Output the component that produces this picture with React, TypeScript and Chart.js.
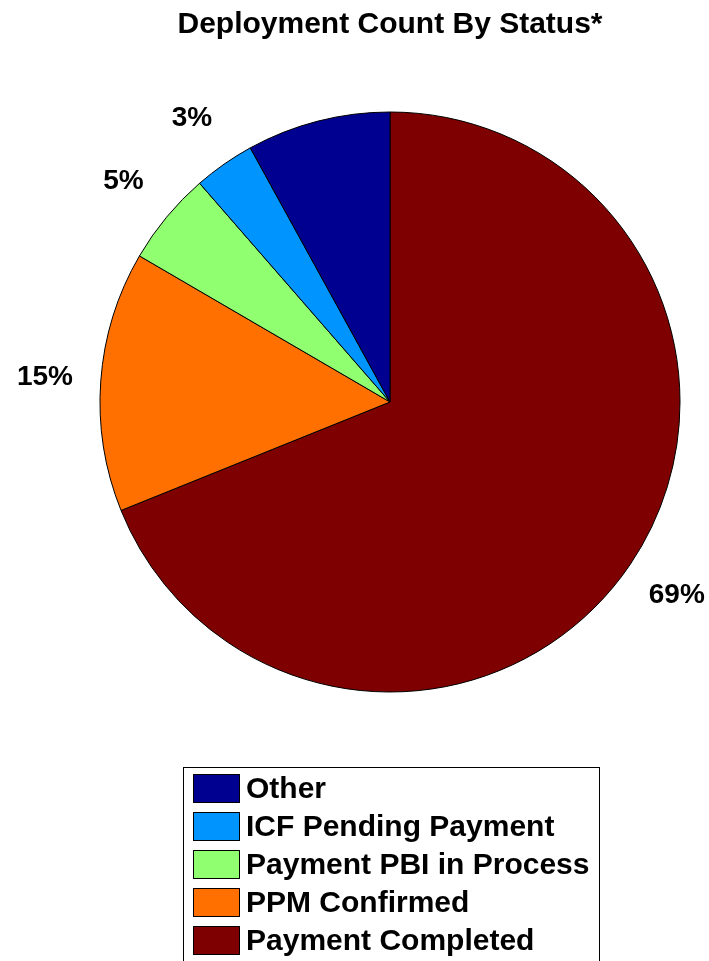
import React, { useEffect, useRef } from "react";
import { Chart, registerables } from "chart.js";

Chart.register(...registerables);

const titleText = "Deployment Count By Status*";
const categories = [
  "Payment Completed",
  "PPM Confirmed",
  "Payment PBI in Process",
  "ICF Pending Payment",
  "Other",
];
const values = [68.9, 14.5, 5.2, 3.4, 8.0];
const sliceLabels = ["69%", "15%", "5%", "3%", ""];
const colors = ["#7F0000", "#FF7000", "#90FF70", "#0094FF", "#000090"];

const FONT = "Arial, 'Liberation Sans', sans-serif";

const sliceLabelPlugin = {
  id: "sliceLabels",
  afterDatasetsDraw(chart: any) {
    const ctx = chart.ctx;
    const meta = chart.getDatasetMeta(0);
    ctx.save();
    ctx.font = `bold 28px ${FONT}`;
    ctx.fillStyle = "#000";
    ctx.textAlign = "center";
    ctx.textBaseline = "middle";
    meta.data.forEach((arc: any, i: number) => {
      const t = sliceLabels[i];
      if (!t) return;
      const p = arc.getProps(["x", "y", "startAngle", "endAngle", "outerRadius"], true);
      const mid = (p.startAngle + p.endAngle) / 2;
      const r = p.outerRadius + 56;
      ctx.fillText(t, p.x + Math.cos(mid) * r, p.y + Math.sin(mid) * r);
    });
    ctx.restore();
  },
};

const boxLegendPlugin = {
  id: "boxLegend",
  afterDraw(chart: any) {
    const ctx = chart.ctx;
    const labels: string[] = chart.data.labels;
    const bg: string[] = chart.data.datasets[0].backgroundColor;
    const order = labels.map((_, i) => i).reverse();
    const left = 183.5;
    const top = 767.5;
    const right = 599.5;
    ctx.save();
    ctx.strokeStyle = "#000";
    ctx.lineWidth = 1;
    ctx.strokeRect(left, top, right - left, 230);
    ctx.font = `bold 30px ${FONT}`;
    ctx.textAlign = "left";
    ctx.textBaseline = "middle";
    order.forEach((idx, row) => {
      const y = 774 + row * 38;
      ctx.fillStyle = bg[idx];
      ctx.fillRect(193, y, 47, 29);
      ctx.strokeStyle = "#000";
      ctx.strokeRect(193.5, y + 0.5, 46, 28);
      ctx.fillStyle = "#000";
      ctx.fillText(labels[idx], 246, y + 16);
    });
    ctx.restore();
  },
};

export default function App() {
  const ref = useRef<HTMLCanvasElement>(null);
  useEffect(() => {
    if (!ref.current) return;
    const chart = new Chart(ref.current, {
      type: "pie",
      data: {
        labels: categories,
        datasets: [
          {
            data: values,
            backgroundColor: colors,
            borderColor: "#000",
            borderWidth: 1,
            radius: 290,
          } as any,
        ],
      },
      options: {
        responsive: false,
        animation: false,
        layout: { padding: { left: 100, right: 29, top: 0, bottom: 269 } },
        plugins: {
          legend: { display: false },
          tooltip: { enabled: false },
          title: {
            display: true,
            text: titleText,
            color: "#000",
            font: { family: FONT, size: 30, weight: "bold" },
            padding: { top: 7, bottom: 69 },
          },
        },
      },
      plugins: [sliceLabelPlugin, boxLegendPlugin],
    });
    return () => chart.destroy();
  }, []);
  return (
    <div style={{ position: "fixed", left: 0, top: 0, width: 709, height: 961, background: "#fff" }}>
      <canvas ref={ref} width={709} height={961} style={{ display: "block" }} />
    </div>
  );
}
